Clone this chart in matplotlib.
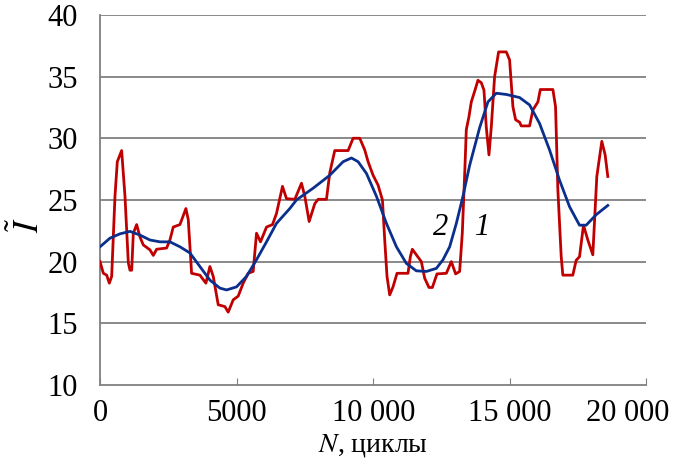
import matplotlib
matplotlib.use("Agg")
import matplotlib.pyplot as plt
from matplotlib.transforms import ScaledTranslation

plt.rcParams['font.family'] = ['Liberation Serif', 'DejaVu Serif']
plt.rcParams['mathtext.fontset'] = 'stix'

# --- кривая 1 (красная, измеренная) ---
n1 = [0, 122, 244, 341, 427, 548, 633, 792, 914, 1036, 1097, 1160, 1219, 1341,
      1462, 1584, 1828, 1950, 2072, 2438, 2559, 2681, 2925, 3144, 3230, 3352,
      3656, 3875, 4022, 4144, 4326, 4570, 4692, 4875, 5058, 5240, 5423, 5606,
      5728, 5874, 6094, 6313, 6459, 6679, 6825, 7130, 7374, 7495, 7654, 7861,
      7983, 8288, 8409, 8592, 9080, 9263, 9506, 9689, 9811, 9994, 10177, 10336,
      10420, 10504, 10602, 10724, 10870, 11272, 11358, 11431, 11577, 11760,
      11882, 12040, 12163, 12333, 12675, 12858, 13015, 13162, 13259, 13357,
      13406, 13503, 13589, 13710, 13832, 13955, 14052, 14137, 14235, 14320,
      14442, 14588, 14869, 14990, 15112, 15210, 15356, 15417, 15722, 15844,
      16027, 16114, 16575, 16672, 16757, 16879, 16939, 17304, 17426, 17549,
      17695, 17853, 18036, 18182, 18365, 18487, 18584]
i1 = [20.0, 19.05, 18.9, 18.25, 18.8, 25.3, 28.1, 29.0, 25.3, 19.9, 19.3, 19.3,
      22.3, 23.0, 22.0, 21.35, 20.95, 20.5, 21.0, 21.1, 21.75, 22.8, 23.0, 24.3,
      23.4, 19.05, 18.9, 18.25, 19.6, 18.8, 16.5, 16.35, 15.9, 16.9, 17.2,
      18.25, 19.05, 19.2, 22.3, 21.6, 22.8, 23.0, 23.9, 26.1, 25.1, 25.05,
      26.35, 25.3, 23.25, 24.7, 25.05, 25.05, 27.2, 29.0, 29.0, 30.0, 30.0,
      29.05, 28.1, 27.0, 26.2, 25.0, 21.75, 18.8, 17.3, 17.95, 19.05, 19.05,
      20.4, 21.0, 20.55, 20.0, 18.65, 17.9, 17.9, 19.0, 19.05, 20.0, 19.0,
      19.2, 22.3, 27.7, 30.7, 31.75, 32.95, 33.8, 34.7, 34.5, 33.9, 30.9,
      28.65, 30.9, 35.0, 37.0, 37.0, 36.35, 32.55, 31.5, 31.3, 31.0, 31.0,
      32.3, 32.95, 33.95, 33.95, 32.55, 25.8, 20.4, 18.9, 18.9, 20.1, 20.4,
      22.95, 21.75, 20.55, 26.9, 29.75, 28.65, 26.9]

# --- кривая 2 (синяя, сглаженная) ---
n2 = [0, 366, 731, 1097, 1462, 1828, 2194, 2559, 2925, 3290, 3656, 4022, 4387,
      4631, 4997, 5362, 5728, 6094, 6459, 6946, 7191, 7800, 8409, 8897, 9202,
      9445, 9750, 10116, 10482, 10848, 11213, 11578, 11944, 12310, 12553,
      12797, 13041, 13284, 13528, 13893, 14198, 14503, 14869, 15356, 15722,
      16087, 16453, 16818, 17184, 17549, 17793, 18158, 18584]
i2 = [21.2, 21.9, 22.25, 22.45, 22.15, 21.75, 21.6, 21.6, 21.2, 20.7, 19.6,
      18.5, 17.85, 17.7, 17.95, 18.8, 20.15, 21.6, 23.1, 24.3, 25.0, 25.95,
      27.0, 28.1, 28.4, 28.1, 27.15, 25.3, 23.1, 21.2, 19.85, 19.25, 19.2,
      19.45, 20.15, 21.2, 23.1, 25.3, 27.8, 30.85, 32.95, 33.65, 33.55, 33.3,
      32.7, 31.2, 29.05, 26.6, 24.45, 22.95, 22.95, 23.8, 24.55]

x_ticks = [0, 5000, 10000, 15000, 20000]
x_labels = ['0', '5000', '10 000', '15 000', '20 000']
y_ticks = [10, 15, 20, 25, 30, 35, 40]

fig = plt.figure(figsize=(6.73, 4.66), dpi=100)
ax = fig.add_axes([0.1486, 0.174, 0.812, 0.794])

for y in y_ticks[1:]:
    ax.axhline(y, color='#808080', linewidth=1.3, zorder=1)

ax.plot(n1, i1, color='#C00000', linewidth=2.0, zorder=3)
ax.plot(n2, i2, color='#0A2F8C', linewidth=2.0, zorder=4)

ax.text(12460, 22.8, '2', fontsize=22, style='italic', ha='center', va='center')
ax.text(14000, 22.8, '1', fontsize=22, style='italic', ha='center', va='center')

ax.set_xlim(0, 20000)
ax.set_ylim(10, 40)
ax.set_xticks(x_ticks)
ax.set_xticklabels(x_labels)
ax.set_yticks(y_ticks)

for s in ['top', 'right']:
    ax.spines[s].set_visible(False)
for s in ['left', 'bottom']:
    ax.spines[s].set_color('#808080')
    ax.spines[s].set_linewidth(1.3)

ax.tick_params(axis='x', direction='in', length=5, color='#808080',
               labelsize=22, pad=10)
ax.tick_params(axis='y', length=0, labelsize=22, pad=16)

# последняя подпись сдвинута влево, чтобы поместилась
last = ax.get_xticklabels()[-1]
last.set_transform(last.get_transform() + ScaledTranslation(-0.19, 0, fig.dpi_scale_trans))

ax.set_xlabel('$N$, циклы', fontsize=20, labelpad=3)
ax.set_ylabel(r'$\tilde{I}$', fontsize=25)
ax.yaxis.set_label_coords(-0.097, 0.432)

fig.savefig('out.png', dpi=100)
